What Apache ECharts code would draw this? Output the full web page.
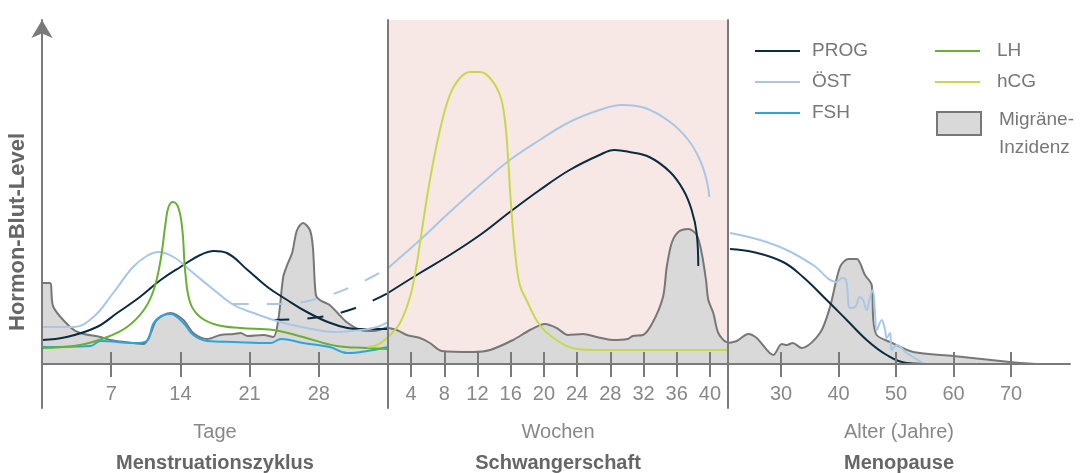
<!DOCTYPE html>
<html>
<head>
<meta charset="utf-8">
<script src="https://cdn.jsdelivr.net/npm/echarts@6/dist/echarts.min.js"></script>
<style>
    html, body { margin: 0; padding: 0; background: #fff; }
    #chart { width: 1081px; height: 473px; }
</style>
</head>
<body>
<div id="chart"></div>
<script>
// tick labels per panel
const cycleTicks = [7, 14, 21, 28];
const weekTicks = [4, 8, 12, 16, 20, 24, 28, 32, 36, 40];
const ageTicks = [30, 40, 50, 60, 70];

// Menstruationszyklus (x = Tage)
const migraineCycle = [[0,81],[0.8,81],[1.15,57],[2.84,37],[3.85,31],[5.9,27],[6.9,24],[9.2,21],[10.3,20],[11.0,31],[11.6,44],[13.0,51],[14.3,44],[15.3,31],[16.7,25],[18.05,29],[19.4,30],[20.1,31],[20.8,28],[22.4,29],[23.4,27],[23.9,44],[24.4,87],[24.8,99],[25.3,111],[25.8,134],[26.4,141],[27.1,134],[27.4,117],[27.7,69],[28.1,64],[29.1,59],[29.9,51],[30.8,42],[32.2,34],[33.5,33],[35,37]];
const progCycle = [[0,24],[2.5,27],[5.55,37],[7.6,51],[9.9,67],[12.0,84],[14.0,97],[16.0,109],[17.4,113],[18.7,111],[20.8,94],[22.8,77],[24.8,64],[26.8,52],[28.9,42],[30.9,36],[32.2,35],[35,35]];
const progBridge = [[23.4,44],[28.1,47],[31.7,56],[35,71]];
const ostCycle = [[0,37],[3.2,37],[5.2,47],[7.2,71],[9.2,97],[10.6,108],[11.8,112],[13.3,107],[15.3,91],[17.4,74],[19.4,59],[21.4,51],[24.1,42],[26.8,36],[29.5,32],[32.2,34],[33.9,37],[35,42]];
const ostBridge = [[19.3,60],[24.4,60],[28.1,66],[31.7,79],[35,96]];
const lhCycle = [[0,16],[3.85,19],[6.6,27],[8.6,37],[10.3,54],[11.3,74],[12.0,104],[12.5,141],[12.8,157],[13.25,162],[13.8,156],[14.2,134],[14.5,91],[15.0,61],[16.0,47],[17.7,39],[20.1,36],[23.4,34],[26.4,27],[29.8,18],[32.9,16],[35,15]];
const fshCycle = [[0,17],[4.9,18],[5.9,23],[9.3,21],[10.6,23],[11.3,41],[12.3,49],[13.0,50],[14.3,41],[15.3,29],[16.7,23],[19.4,22],[23.1,21],[24.2,25],[26.4,21],[29.1,17],[30.9,11],[32.9,13],[35,17]];
const hcgCycle = [[32.9,17],[33.9,19],[35,27]];

// Schwangerschaft (x = Wochen)
const migrainePreg = [[1.22,36],[2.27,34],[3.47,29],[5.07,26],[6.27,21],[7.69,13],[11.46,12],[13.51,14],[16.28,24],[18.33,34],[20.13,40],[21.54,36],[22.9,29],[24.71,30],[26.36,27],[28.28,24],[30.08,25],[30.71,28],[31.94,29],[33.14,42],[34.35,67],[34.8,97],[35.4,121],[36.19,132],[37.4,135],[38.41,129],[39.01,111],[39.53,84],[39.81,64],[40.41,51],[41.01,31],[42.02,22],[42.18,22]];
const ostPreg = [[1.22,96],[5.07,124],[8.67,152],[12.3,179],[15.9,204],[19.5,224],[23.1,242],[26.7,254],[29.4,259],[32.2,256],[35.2,242],[37.4,224],[38.8,204],[39.6,184],[39.93,167]];
const progPreg = [[1.22,71],[5.07,91],[8.67,109],[12.3,129],[15.9,152],[19.5,174],[23.1,194],[26.7,209],[28.5,214],[30.3,212],[32.7,207],[35.2,192],[36.8,174],[37.8,154],[38.4,131],[38.6,98]];
const hcgPreg = [[1.22,27],[2.66,41],[3.87,67],[4.71,101],[5.07,121],[6.27,184],[7.48,234],[8.67,269],[9.89,286],[11.1,292],[12.3,292],[13.5,286],[14.7,269],[15.3,244],[15.7,204],[16.0,164],[16.5,114],[17.1,79],[17.9,64],[19.5,39],[21.5,24],[24.0,15],[26.8,14],[42.18,14]];

// Menopause (x = Alter in Jahren)
const migraineMeno = [[20.78,21],[22.3,23],[24.31,30],[25.77,26],[28.66,9],[30.12,20],[31.0,19],[32.03,21],[33.6,16],[36.78,31],[38.52,57],[40.26,97],[41.7,105],[43.17,105],[44.6,89],[45.77,79],[46.05,44],[46.64,29],[48.96,22],[53.0,12],[59.97,8],[69.83,2],[74.47,0]];
const ostMeno = [[21.13,131],[26.35,124],[31.0,114],[35.57,99],[39.69,82],[40.56,86],[41.3,84],[42.0,56],[42.87,57],[43.74,67],[44.26,64],[44.9,54],[45.48,67],[45.95,74],[46.35,51],[46.64,34],[47.51,44],[48.09,34],[48.38,26],[48.96,31],[49.25,14],[50.12,19],[51.86,11],[54.7,1]];
const progMeno = [[21.13,115],[25.13,112],[30.35,102],[33.83,87],[37.95,64],[41.43,44],[44.9,24],[48.38,9],[51.86,1],[56.78,0]];

const FONT = 'Liberation Sans, Arial, sans-serif';
const AXIS = '#7a7a7a';
const C = {
    prog: '#0b2b40',
    ost: '#a8c7e7',
    fsh: '#2aa6dd',
    lh: '#67b033',
    hcg: '#c6d94b',
    migLine: '#777777',
    migFill: '#d9d9d9',
    pink: '#f7e8e5'
};
// legend icons: thin line, and a box whose frame sits above the centre
const LINE_ICON = 'path://M0,0L45,0L45,2L0,2Z';
const BOX_ICON = 'path://M0,0L44,0L44,23L0,23Z M0,44';

let myChart = echarts.init(document.getElementById('chart'), null, {renderer: 'canvas'});

function hormone(name, grid, data, color, dashed) {
    return {
        name: name,
        type: 'line',
        xAxisIndex: grid * 2,
        yAxisIndex: grid,
        data: data,
        symbol: 'none',
        smooth: 0.4,
        z: 3,
        itemStyle: {color: color},
        lineStyle: {color: color, width: 2, type: dashed ? [16, 18] : 'solid'},
        silent: true
    };
}

function migraine(grid, data) {
    return {
        name: 'Migräne-Inzidenz',
        type: 'line',
        xAxisIndex: grid * 2,
        yAxisIndex: grid,
        data: data,
        symbol: 'none',
        smooth: 0.3,
        z: 2,
        itemStyle: {color: C.migFill, borderColor: C.migLine},
        lineStyle: {color: C.migLine, width: 2},
        areaStyle: {color: C.migFill, opacity: 1},
        silent: true
    };
}

// the axis line sits on y = 0, but labels and name are laid out from the grid bottom (44px lower)
function xAxes(grid, min, max, ticks, title, subtitle) {
    return [{
        type: 'value',
        gridIndex: grid,
        min: min,
        max: max,
        position: 'bottom',
        z: 10,
        axisLine: {show: true, onZero: true, onZeroAxisIndex: grid, lineStyle: {color: AXIS, width: 2}},
        axisTick: {show: true, inside: false, length: 13, customValues: ticks, lineStyle: {color: AXIS, width: 2}},
        axisLabel: {show: true, customValues: ticks, margin: -24, fontSize: 20, color: '#888', fontFamily: FONT},
        splitLine: {show: false},
        name: '{t|' + title + '}\n{b|' + subtitle + '}',
        nameLocation: 'middle',
        nameGap: 9,
        nameTextStyle: {
            rich: {
                t: {fontSize: 20, color: '#888', lineHeight: 31, fontFamily: FONT, align: 'center'},
                b: {fontSize: 20, color: '#666', fontWeight: 'bold', lineHeight: 31, fontFamily: FONT, align: 'center'}
            }
        }
    }, {
        type: 'value',
        gridIndex: grid,
        min: min,
        max: max,
        position: 'bottom',
        z: 10,
        axisLine: {show: false, onZero: true, onZeroAxisIndex: grid},
        axisTick: {show: true, inside: true, length: 12, customValues: ticks, lineStyle: {color: AXIS, width: 2}},
        axisLabel: {show: false},
        splitLine: {show: false}
    }];
}

function yAxis(grid) {
    let axis = {
        type: 'value',
        gridIndex: grid,
        min: -44,
        max: 344,
        z: 10,
        axisLine: {show: true, onZero: false, lineStyle: {color: AXIS, width: 2}},
        axisTick: {show: false},
        axisLabel: {show: false},
        splitLine: {show: false}
    };
    if (grid === 0) {
        axis.axisLine.symbol = ['none', 'arrow'];
        axis.axisLine.symbolSize = [16, 18];
        axis.name = 'Hormon-Blut-Level';
        axis.nameLocation = 'middle';
        axis.nameRotate = 90;
        axis.nameGap = 13;
        axis.nameTextStyle = {fontSize: 22, fontWeight: 'bold', color: '#666', fontFamily: FONT, padding: [0, 36, 0, 0]};
    }
    return axis;
}

let legendText = {fontSize: 19, color: '#777', fontFamily: FONT, lineHeight: 23};

let option = {
    animation: false,
    backgroundColor: '#fff',
    grid: [
        {left: 42, top: 20, width: 346, height: 388, containLabel: false, outerBoundsMode: 'none'},
        {left: 388, top: 20, width: 340, height: 388, containLabel: false, outerBoundsMode: 'none'},
        {left: 728, top: 20, width: 342, height: 388, containLabel: false, outerBoundsMode: 'none'}
    ],
    xAxis: [].concat(
        xAxes(0, 0, 35, cycleTicks, 'Tage', 'Menstruationszyklus'),
        xAxes(1, 1.22, 42.18, weekTicks, 'Wochen', 'Schwangerschaft'),
        xAxes(2, 20.78, 80.26, ageTicks, 'Alter (Jahre)', 'Menopause')
    ),
    yAxis: [yAxis(0), yAxis(1), yAxis(2)],
    legend: [{
        left: 755, top: 39.5, orient: 'vertical', padding: 0,
        itemWidth: 45, itemHeight: 23, itemGap: 8, selectedMode: false,
        icon: LINE_ICON,
        textStyle: Object.assign({padding: [0, 0, 0, 7]}, legendText),
        data: ['PROG', 'ÖST', 'FSH']
    }, {
        left: 935, top: 39.5, orient: 'vertical', padding: 0,
        itemWidth: 45, itemHeight: 23, itemGap: 8, selectedMode: false,
        icon: LINE_ICON,
        textStyle: Object.assign({padding: [0, 0, 0, 12]}, legendText),
        data: ['LH', 'hCG']
    }, {
        left: 936, top: 106, orient: 'vertical', padding: 0,
        itemWidth: 44, itemHeight: 44, selectedMode: false,
        formatter: function () { return 'Migräne-\nInzidenz'; },
        textStyle: {fontSize: 19, color: '#777', fontFamily: FONT, lineHeight: 28, padding: [0, 0, 0, 13]},
        data: [{
            name: 'Migräne-Inzidenz',
            icon: BOX_ICON,
            itemStyle: {color: C.migFill, borderColor: '#777', borderWidth: 2}
        }]
    }],
    series: [
        {
            name: 'Schwangerschaft-Hintergrund',
            type: 'line',
            xAxisIndex: 2,
            yAxisIndex: 1,
            data: [],
            z: 1,
            silent: true,
            markArea: {
                silent: true,
                itemStyle: {color: C.pink},
                data: [[{xAxis: 1.22, yAxis: 0}, {xAxis: 42.18, yAxis: 344}]]
            }
        },
        migraine(0, migraineCycle),
        migraine(1, migrainePreg),
        migraine(2, migraineMeno),
        hormone('PROG', 0, progCycle, C.prog),
        hormone('PROG', 1, progPreg, C.prog),
        hormone('PROG', 2, progMeno, C.prog),
        hormone('PROG Übergang', 0, progBridge, C.prog, true),
        hormone('ÖST', 0, ostCycle, C.ost),
        hormone('ÖST', 1, ostPreg, C.ost),
        hormone('ÖST', 2, ostMeno, C.ost),
        hormone('ÖST Übergang', 0, ostBridge, C.ost, true),
        hormone('FSH', 0, fshCycle, C.fsh),
        hormone('LH', 0, lhCycle, C.lh),
        hormone('hCG', 0, hcgCycle, C.hcg),
        hormone('hCG', 1, hcgPreg, C.hcg)
    ]
};

myChart.setOption(option);
</script>
</body>
</html>
